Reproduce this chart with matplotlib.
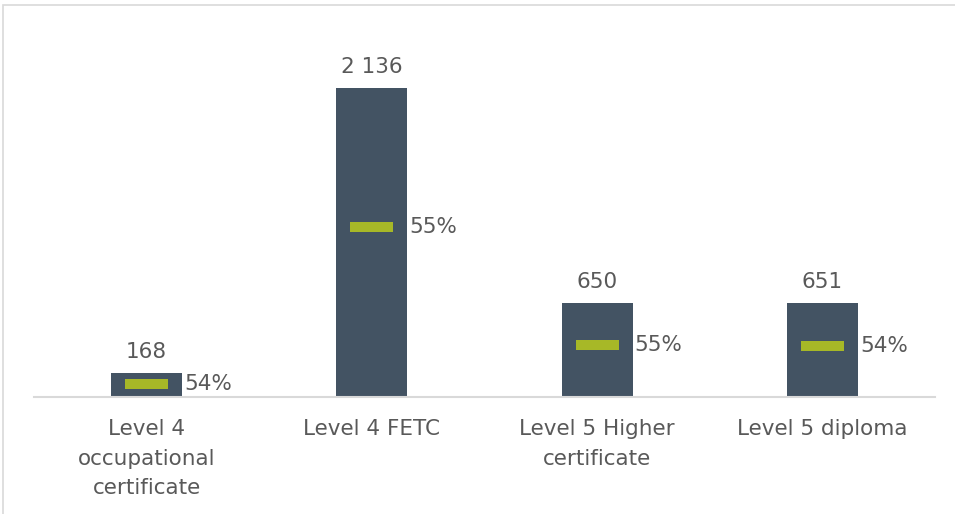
import matplotlib
matplotlib.use("Agg")
import matplotlib.pyplot as plt
from matplotlib.patches import Rectangle

# Enrolments per qualification and the share shown inside each bar
categories = ["Level 4\noccupational\ncertificate", "Level 4 FETC",
              "Level 5 Higher\ncertificate", "Level 5 diploma"]
counts = [168, 2136, 650, 651]
shares = [0.54, 0.55, 0.55, 0.54]
count_labels = ["168", "2 136", "650", "651"]
share_labels = ["54%", "55%", "55%", "54%"]

BAR_COLOR = "#435363"
MARK_COLOR = "#A7B827"
TEXT_COLOR = "#595959"
FONT = ["DejaVu Sans"]
FS = 15.5

W, H = 955, 514
fig = plt.figure(figsize=(W / 100, H / 100), dpi=100)
fig.patch.set_facecolor("white")

left, right = 34 / W, 935 / W
bottom = (H - 397) / H
top = (H - 35) / H
ax = fig.add_axes([left, bottom, right - left, top - bottom])

x = list(range(len(categories)))
ax.bar(x, counts, width=0.315, color=BAR_COLOR, zorder=2)

ax.set_xlim(-0.5, len(categories) - 0.5)
ax.set_ylim(0, 2500)

# Marker for the share, placed at share * count on the count scale
mark_h = 66
for xi, c, s, sl, cl in zip(x, counts, shares, share_labels, count_labels):
    y = c * s
    ax.bar(xi, mark_h, bottom=y - mark_h / 2, width=0.19, color=MARK_COLOR, zorder=3)
    ax.annotate(sl, (xi + 0.1575, y), xytext=(1.5, 0), textcoords="offset points",
                ha="left", va="center", fontsize=FS, color=TEXT_COLOR, family=FONT)
    ax.annotate(cl, (xi, c), xytext=(0, 7.5), textcoords="offset points",
                ha="center", va="bottom", fontsize=FS, color=TEXT_COLOR, family=FONT)

ax.set_xticks(x)
ax.set_xticklabels(categories, fontsize=FS, color=TEXT_COLOR, family=FONT,
                   linespacing=1.6)
ax.tick_params(axis="x", length=0, pad=16)
ax.set_yticks([])
for side in ["top", "right", "left"]:
    ax.spines[side].set_visible(False)
ax.spines["bottom"].set_color("#D9D9D9")
ax.spines["bottom"].set_linewidth(1.5)

# Chart area frame
fig.add_artist(Rectangle((3 / W, -0.05), 1.1, 1 - 5 / H + 0.05,
                         transform=fig.transFigure, fill=False,
                         edgecolor="#D9D9D9", linewidth=1.2))

fig.savefig("out.png", dpi=100, facecolor="white")
